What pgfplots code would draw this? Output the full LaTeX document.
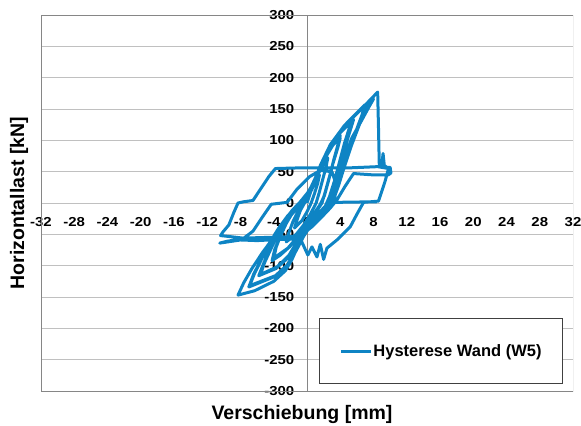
\documentclass[border=0pt]{standalone}
\usepackage{fontspec}
\setmainfont{Liberation Sans}
\newfontfamily\tickfont{Liberation Sans}[FakeStretch=1.15]
\usepackage{pgfplots}
\pgfplotsset{compat=1.18}
\definecolor{hblue}{RGB}{14,132,196}
\definecolor{gridgray}{RGB}{192,192,192}
\definecolor{framegray}{RGB}{134,134,134}
\begin{document}
\begin{tikzpicture}
\begin{axis}[
  at={(0,0)}, anchor=south west,
  scale only axis, width=532bp, height=376bp,
  xmin=-32, xmax=32, ymin=-300, ymax=300,
  enlargelimits=false,
  axis lines=middle,
  every inner x axis line/.append style={-},
  every inner y axis line/.append style={-},
  axis line style={framegray, line width=0.8bp},
  xtick={-32,-28,...,32},
  ytick={-300,-250,...,300},
  extra x ticks={0}, extra y ticks={0},
  ymajorgrids, grid style={gridgray, line width=0.8bp},
  major tick length=0pt,
  /pgf/number format/assume math mode=true,
  xticklabel style={font=\tickfont\bfseries\fontsize{13bp}{13bp}\selectfont, anchor=north, inner sep=0pt, yshift=-14bp},
  yticklabel style={font=\tickfont\bfseries\fontsize{13bp}{13bp}\selectfont, anchor=east, inner sep=0pt, xshift=-12.5bp},
  every axis x label/.style={at={(axis description cs:0.4906,-0.0745)}, anchor=base, font=\bfseries\fontsize{19.5bp}{20bp}\selectfont},
  every axis y label/.style={at={(axis description cs:-0.0414,0.5)}, rotate=90, anchor=center, font=\bfseries\fontsize{19.5bp}{20bp}\selectfont},
  xlabel={Verschiebung [mm]}, ylabel={Horizontallast [kN]},
  legend style={at={(axis description cs:0.5226,0.1941)}, anchor=north west, draw=black!75, line width=0.8bp, fill=white,
    inner xsep=20bp, inner ysep=24bp, font=\bfseries\fontsize{16.5bp}{17bp}\selectfont,
    nodes={inner xsep=1bp, inner ysep=2bp}},
  legend cell align=left,
  legend image code/.code={\draw[#1] (0bp,0bp) -- (30bp,0bp);},
]
\draw[framegray, line width=0.8bp] (rel axis cs:0,0) rectangle (rel axis cs:1,1);
\addplot[hblue, line width=3bp, line join=round, mark=none] coordinates {
(0,0) (0.5,20) (1,35) (1.5,45) (1.3,32) (0.9,15) (0.5,0) (0,-14) (-0.6,-28) (-1.5,-40)
(-1.2,-27) (-0.8,-12) (-0.3,0) (0.2,12)
(0.6,22) (1.3,45) (1.9,60) (2.5,72)
(2.3,58) (1.9,38) (1.5,18) (1.1,0) (0.4,-18) (-0.4,-35) (-1.3,-50) (-2.5,-62)
(-2.2,-48) (-1.7,-30) (-1.1,-14) (-0.5,-2) (0.1,12) (0.6,25)
(1.2,45) (2,68) (3,90) (4,108)
(3.7,92) (3.2,68) (2.7,42) (2.2,18) (1.8,0) (0.9,-18) (0,-35) (-1,-52) (-2.1,-70) (-3.2,-83) (-4.2,-92)
(-3.9,-75) (-3.3,-55) (-2.6,-35) (-1.8,-17) (-1,-4) (-0.3,8) (0.6,28)
(1.3,48) (2.1,70) (3.1,92) (4,104) (3.7,88) (3.1,62) (2.6,36) (2.1,12) (1.6,-2) (0.7,-20) (-0.2,-38) (-1.2,-55) (-2.3,-72) (-4,-88)
(-3.7,-70) (-3.1,-50) (-2.4,-30) (-1.6,-12) (-0.8,0) (0,14) (0.8,32)
(1.5,55) (2.6,83) (3.8,110) (5.5,136)
(5.1,120) (4.5,95) (3.9,65) (3.3,35) (2.7,10) (2.2,-5) (1,-22) (-0.3,-42) (-1.2,-62) (-2.2,-84) (-3.6,-102) (-5.6,-114)
(-5.1,-95) (-4.4,-75) (-3.6,-52) (-2.7,-32) (-1.7,-14) (-0.7,0) (0.3,18) (1.2,42)
(1.7,60) (2.8,87) (4,112) (5.6,133) (5.2,116) (4.6,90) (4,60) (3.4,30) (2.8,6) (2,-10) (0.8,-27) (-0.3,-47) (-1.3,-68) (-2.3,-88) (-3.8,-105) (-5.8,-116)
(-5.2,-96) (-4.5,-74) (-3.7,-50) (-2.8,-30) (-1.8,-12) (-0.8,2) (0.3,20) (1,40)
(2.3,75) (3.3,100) (4.8,128) (7,157)
(6.6,140) (5.9,115) (5.1,88) (4.3,55) (3.6,25) (3.1,5) (2,-14) (0.5,-34) (-0.5,-54) (-1.4,-76) (-2.3,-98) (-3.8,-116) (-6.9,-132)
(-6.3,-112) (-5.4,-88) (-4.4,-62) (-3.4,-40) (-2.3,-20) (-1.2,-5) (-0.2,8) (0.8,30)
(2.1,72) (3.2,98) (4.7,126) (7.2,158) (6.8,142) (6.1,118) (5.3,90) (4.5,58) (3.8,28) (3.2,6) (2.1,-12) (0.6,-33) (-0.4,-53) (-1.3,-76) (-2.3,-98) (-3.8,-117) (-7,-134)
(-6.4,-113) (-5.5,-90) (-4.5,-64) (-3.5,-42) (-2.4,-22) (-1.3,-6) (-0.3,8) (0.7,30)
(1.9,68) (3,95) (4.4,122) (6.3,148) (8,166)
(7.4,152) (6.5,130) (5.4,104) (4.5,72) (3.8,38) (3.3,10) (2.5,-8) (1,-27) (-0.2,-46) (-1,-66) (-1.8,-90) (-2.6,-108) (-4,-125) (-6.3,-140) (-8.3,-147)
(-7.6,-127) (-6.6,-104) (-5.3,-78) (-3.9,-53) (-2.6,-30) (-1.3,-10) (0,6) (0.8,28)
(1.6,60) (2.8,93) (4.3,120) (6.4,148) (8.5,177)
(8.6,120) (8.7,58) (9.0,60) (9.15,79) (9.3,60) (9.6,57) (10.0,57) (10.1,48) (9.8,45) (7.8,45) (5.6,47) (4.6,27) (3.6,5)
(2.8,-8) (1.8,-22) (0.6,-38) (-0.8,-52) (-2.5,-54) (-5,-55) (-7.7,-56) (-9,-54) (-10.4,-52)
(-10.1,-46) (-9.4,-35) (-8.8,-15) (-8.3,0) (-7.6,2) (-6.5,4) (-5.6,22) (-4.6,42) (-3.8,55)
(-1,56) (2,56) (5,56) (8.5,58) (9.8,55) (9.4,35) (8.9,15) (8.6,3) (6.8,1) (6,-18) (5.2,-38) (4.3,-50) (3.6,-59) (2.4,-72)
(2,-90) (1.6,-66) (1.2,-86) (0.6,-70) (0.1,-83) (-0.8,-57) (-3,-58) (-6,-60) (-8,-59) (-10.5,-64) (-9.6,-61) (-7.7,-57)
(-6.5,-45) (-5.5,-25) (-4.3,-2) (-2.4,1) (-1.2,22) (0.3,42) (1.6,52) (3,50) (3.5,30) (3.3,1) (8.4,2)
};
\addlegendentry{Hysterese Wand (W5)}
\end{axis}
\pgfresetboundingbox
\path (-41bp,-35bp) rectangle (540bp,391bp);
\end{tikzpicture}
\end{document}
